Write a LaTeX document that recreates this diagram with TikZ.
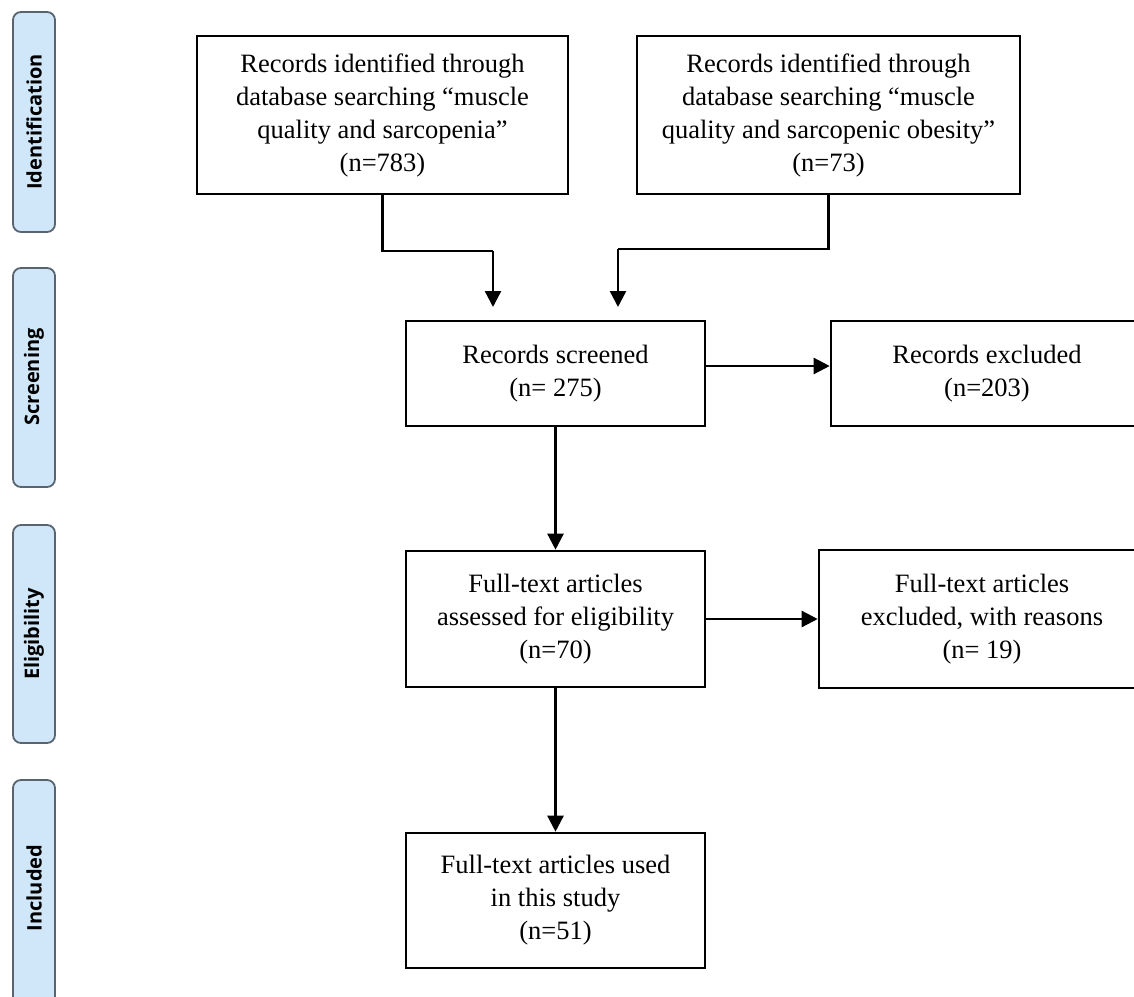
\documentclass[tikz,border=0pt]{standalone}
\usepackage{fontspec}
\setmainfont{Liberation Serif}
\newfontfamily\sidefont{Open Sans}
\usetikzlibrary{arrows.meta}
\definecolor{barfill}{HTML}{CFE7F8}
\definecolor{barline}{HTML}{5A6470}
\tikzset{
  box/.style={draw=black, line width=2.6pt, fill=white, align=center, inner sep=0pt,
    font=\fontsize{26.5}{33}\selectfont},
  bar/.style={draw=barline, line width=1.8pt, fill=barfill, rounded corners=8pt},
  bartext/.style={font=\sidefont\bfseries\fontsize{20}{24}\selectfont, rotate=90},
  arr/.style={line width=2.4pt, -{Triangle[length=16pt,width=16pt]}},
  ln/.style={line width=2.4pt}
}
\begin{document}
\begin{tikzpicture}[x=1pt,y=-1pt]
\useasboundingbox (0,0) rectangle (1134,996);
\clip (0,0) rectangle (1134,996);
% side bars
\draw[bar] (13,12) rectangle (55,232);
\node[bartext] (lid) at (34,122) {Identification};
\draw[bar] (13,268) rectangle (55,487);
\node[bartext] (lsc) at (34,377) {Screening};
\draw[bar] (13,525) rectangle (55,743);
\node[bartext] (lel) at (34,634) {Eligibility};
\draw[bar] (13,780) rectangle (55,1010);
\node[bartext] (lin) at (34,888) {Included};
% boxes
\node[box, minimum width=371pt, minimum height=158pt] (b1) at (382.5,115)
  {Records identified through\\database searching “muscle\\quality and sarcopenia”\\(n=783)};
\node[box, minimum width=383pt, minimum height=158pt] (b2) at (828.5,115)
  {Records identified through\\database searching “muscle\\quality and sarcopenic obesity”\\(n=73)};
\node[box, minimum width=299pt, minimum height=105pt] (scr) at (555.5,373.5)
  {Records screened\\(n= 275)};
\node[box, minimum width=312pt, minimum height=105pt] (ex1) at (987,373.5)
  {Records excluded\\(n=203)};
\node[box, minimum width=299pt, minimum height=136pt] (ft) at (555.5,619)
  {Full-text articles\\assessed for eligibility\\(n=70)};
\node[box, minimum width=326pt, minimum height=138pt] (ex2) at (982,619)
  {Full-text articles\\excluded, with reasons\\(n= 19)};
\node[box, minimum width=299pt, minimum height=135pt] (inc) at (555.5,900.5)
  {Full-text articles used\\in this study\\(n=51)};
% connectors
\coordinate (j1) at (493,251);
\coordinate (t1) at (493,307);
\coordinate (j2) at (618,249);
\coordinate (t2) at (618,307);
\draw[ln] (b1.south) |- (j1);
\draw[arr] (j1) -- (t1);
\draw[ln] (b2.south) |- (j2);
\draw[arr] (j2) -- (t2);
\draw[arr] ([yshift=7.5pt]scr.east) -- ([yshift=7.5pt]scr.east -| ex1.west);
\draw[arr] (scr.south) -- (ft.north);
\draw[arr] (ft.east) -- (ex2.west);
\draw[arr] (ft.south) -- (inc.north);
\end{tikzpicture}
\end{document}
